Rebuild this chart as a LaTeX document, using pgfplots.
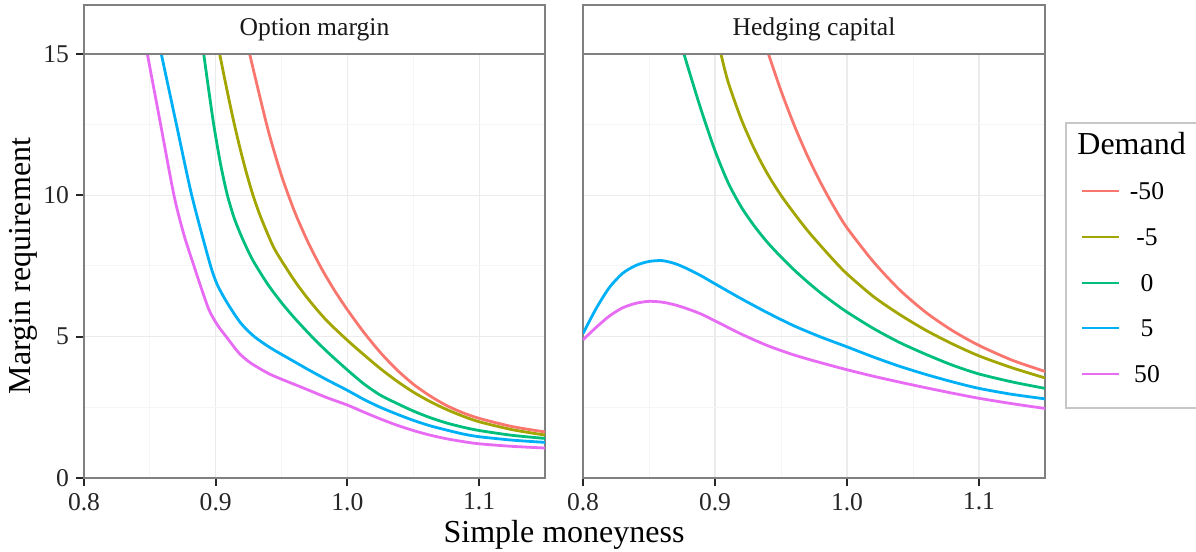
\documentclass[border=0pt]{standalone}
\usepackage{pgfplots}
\pgfplotsset{compat=1.18}
\usepackage{fontspec}
\setmainfont{Liberation Serif}

\definecolor{dmA}{HTML}{F8766D}
\definecolor{dmB}{HTML}{A3A500}
\definecolor{dmC}{HTML}{00BF7D}
\definecolor{dmD}{HTML}{00B0F6}
\definecolor{dmE}{HTML}{E76BF3}

\pgfplotsset{
  panel/.style={
    scale only axis, width=230.5pt, height=212pt,
    xmin=0.8, xmax=1.15, ymin=0, ymax=15,
    xtick={0.8,0.9,1.0,1.1}, xticklabels={0.8,0.9,1.0,1.1},
    minor xtick={0.85,0.95,1.05},
    ytick={0,5,10,15}, minor ytick={2.5,7.5,12.5},
    grid=both,
    major grid style={black!8, line width=0.6pt},
    minor grid style={black!4, line width=0.5pt},
    axis line style={black!50, line width=1pt},
    tick align=outside, tick pos=left,
    major tick length=4pt, minor tick length=0pt,
    major tick style={black!85, line width=1pt},
    ticklabel style={font=\fontsize{12.8}{14}\selectfont, text=black!85},
    /pgf/number format/assume math mode=true,
    every axis plot/.append style={line width=1.4pt, smooth, tension=0.45},
  },
}

\begin{document}
\begin{tikzpicture}
\useasboundingbox (0,0) rectangle (598pt,276pt);

% ---- Option margin
\begin{axis}[panel, name=L, at={(42pt,37pt)}, anchor=south west]
\addplot[dmA] coordinates {
  (0.9258,15.0) (0.93,14.17) (0.94,12.27) (0.95,10.69) (0.96,9.41) (0.97,8.35)
  (0.98,7.44) (0.99,6.65) (1.0,5.95) (1.0125,5.15) (1.025,4.44) (1.0375,3.83)
  (1.05,3.32) (1.0625,2.91) (1.075,2.57) (1.0875,2.31) (1.1,2.11) (1.125,1.82) (1.15,1.63)
};
\addplot[dmB] coordinates {
  (0.903,15) (0.908,13.85) (0.913,12.75) (0.918,11.75) (0.923,10.85) (0.928,10.05)
  (0.934,9.25) (0.944,8.16) (0.9542,7.38) (0.9618,6.85) (0.9716,6.25) (0.9842,5.57)
  (1.0,4.87) (1.0125,4.36) (1.025,3.87) (1.0375,3.43) (1.05,3.04) (1.0625,2.71)
  (1.075,2.43) (1.0875,2.19) (1.1,1.99) (1.125,1.71) (1.15,1.52)
};
\addplot[dmC] coordinates {
  (0.8909,15) (0.8947,13.72) (0.8985,12.5) (0.9035,11.15) (0.9086,10.05) (0.914,9.2)
  (0.92,8.5) (0.9265,7.85) (0.9314,7.45) (0.94,6.82) (0.95,6.2) (0.96,5.65) (0.973,5.0)
  (0.985,4.45) (1.0,3.82) (1.0125,3.33) (1.025,2.93) (1.0375,2.64) (1.05,2.37)
  (1.0625,2.14) (1.075,1.95) (1.0875,1.80) (1.1,1.68) (1.125,1.51) (1.15,1.40)
};
\addplot[dmD] coordinates {
  (0.8587,15) (0.8702,12.5) (0.8818,10.0) (0.8955,7.6) (0.9012,6.84) (0.9088,6.19)
  (0.919,5.48) (0.9291,5.01) (0.9417,4.60) (0.9569,4.19) (0.9716,3.80) (0.9842,3.48)
  (1.0,3.10) (1.0125,2.78) (1.025,2.50) (1.0375,2.26) (1.05,2.04) (1.0625,1.85)
  (1.075,1.70) (1.0875,1.56) (1.1,1.46) (1.125,1.34) (1.15,1.26)
};
\addplot[dmE] coordinates {
  (0.8481,15) (0.8582,12.5) (0.8683,10.0) (0.8759,8.6) (0.8835,7.5) (0.8886,6.78)
  (0.8949,5.95) (0.9012,5.42) (0.9088,4.95) (0.9177,4.42) (0.9265,4.07) (0.9417,3.66)
  (0.962,3.27) (0.972,3.08) (0.984,2.85) (1.0,2.58) (1.0125,2.33) (1.025,2.09)
  (1.0375,1.87) (1.05,1.68) (1.0625,1.52) (1.075,1.39) (1.0875,1.29) (1.1,1.21)
  (1.125,1.12) (1.15,1.06)
};
\end{axis}

% ---- Hedging capital
\begin{axis}[panel, name=R, at={(291.5pt,37pt)}, anchor=south west,
  width=231pt, yticklabels={}, ytick style={draw=none}]
\addplot[dmA] coordinates {
  (0.9405,15) (0.95,13.70) (0.96,12.48) (0.97,11.40) (0.98,10.45) (0.99,9.60)
  (1.0,8.85) (1.02,7.65) (1.04,6.65) (1.06,5.85) (1.08,5.21) (1.10,4.69)
  (1.125,4.17) (1.15,3.77)
};
\addplot[dmB] coordinates {
  (0.9045,15) (0.91,14.0) (0.92,12.68) (0.93,11.62) (0.94,10.74) (0.95,10.0)
  (0.96,9.36) (0.97,8.76) (0.98,8.22) (0.99,7.70) (1.0,7.22) (1.02,6.42)
  (1.04,5.78) (1.06,5.22) (1.08,4.74) (1.10,4.32) (1.125,3.90) (1.15,3.54)
};
\addplot[dmC] coordinates {
  (0.8765,15) (0.8818,14.18) (0.89,12.95) (0.90,11.58) (0.91,10.44) (0.92,9.58)
  (0.93,8.90) (0.94,8.32) (0.95,7.82) (0.96,7.36) (0.97,6.94) (0.98,6.55)
  (0.99,6.20) (1.0,5.87) (1.02,5.29) (1.04,4.79) (1.06,4.37) (1.08,3.99)
  (1.10,3.68) (1.125,3.40) (1.15,3.17)
};
\addplot[dmD] coordinates {
  (0.8,5.11) (0.81,6.0) (0.82,6.74) (0.83,7.24) (0.84,7.52) (0.85,7.66) (0.86,7.69)
  (0.87,7.58) (0.88,7.38) (0.89,7.14) (0.90,6.87) (0.92,6.34) (0.94,5.84)
  (0.96,5.38) (0.98,4.99) (1.0,4.64) (1.02,4.28) (1.04,3.95) (1.06,3.66)
  (1.08,3.40) (1.10,3.17) (1.125,2.96) (1.15,2.80)
};
\addplot[dmE] coordinates {
  (0.80,4.89) (0.81,5.33) (0.82,5.73) (0.83,6.02) (0.84,6.18) (0.85,6.25) (0.86,6.22)
  (0.87,6.12) (0.88,5.97) (0.89,5.79) (0.90,5.56) (0.92,5.09) (0.94,4.68)
  (0.96,4.35) (0.98,4.08) (1.0,3.83) (1.02,3.60) (1.04,3.39) (1.06,3.19)
  (1.08,3.00) (1.10,2.82) (1.125,2.63) (1.15,2.46)
};
\end{axis}

% strips
\foreach \p/\t in {L/Option margin, R/Hedging capital}{
  \draw[black!50, line width=0.6pt, fill=white] (\p.north west) rectangle ([yshift=24.5pt]\p.north east);
  \node[font=\fontsize{12.8}{14}\selectfont, text=black!90] at ([yshift=12.25pt]\p.north) {\t};
}

% axis titles
\node[rotate=90, font=\fontsize{16}{19}\selectfont] at (11.5pt,143pt) {Margin requirement};
\node[anchor=base, font=\fontsize{16}{19}\selectfont] at (282pt,4.7pt) {Simple moneyness};

% legend
\draw[black!22, line width=1.2pt] (533pt,72pt) rectangle (640pt,214.5pt);
\node[anchor=base west, inner sep=0pt, font=\fontsize{16}{19}\selectfont] at (538.5pt,198.5pt) {Demand};
\foreach \c/\l/\y in {dmA/-50/180.5, dmB/-5/157.5, dmC/0/134.5, dmD/5/112, dmE/50/89}{
  \draw[\c, line width=1.4pt] (541pt,\y pt) -- (559.5pt,\y pt);
  \node[inner sep=0pt, font=\fontsize{12.8}{14}\selectfont] at (573.5pt,\y pt) {\l};
}
\end{tikzpicture}
\end{document}
